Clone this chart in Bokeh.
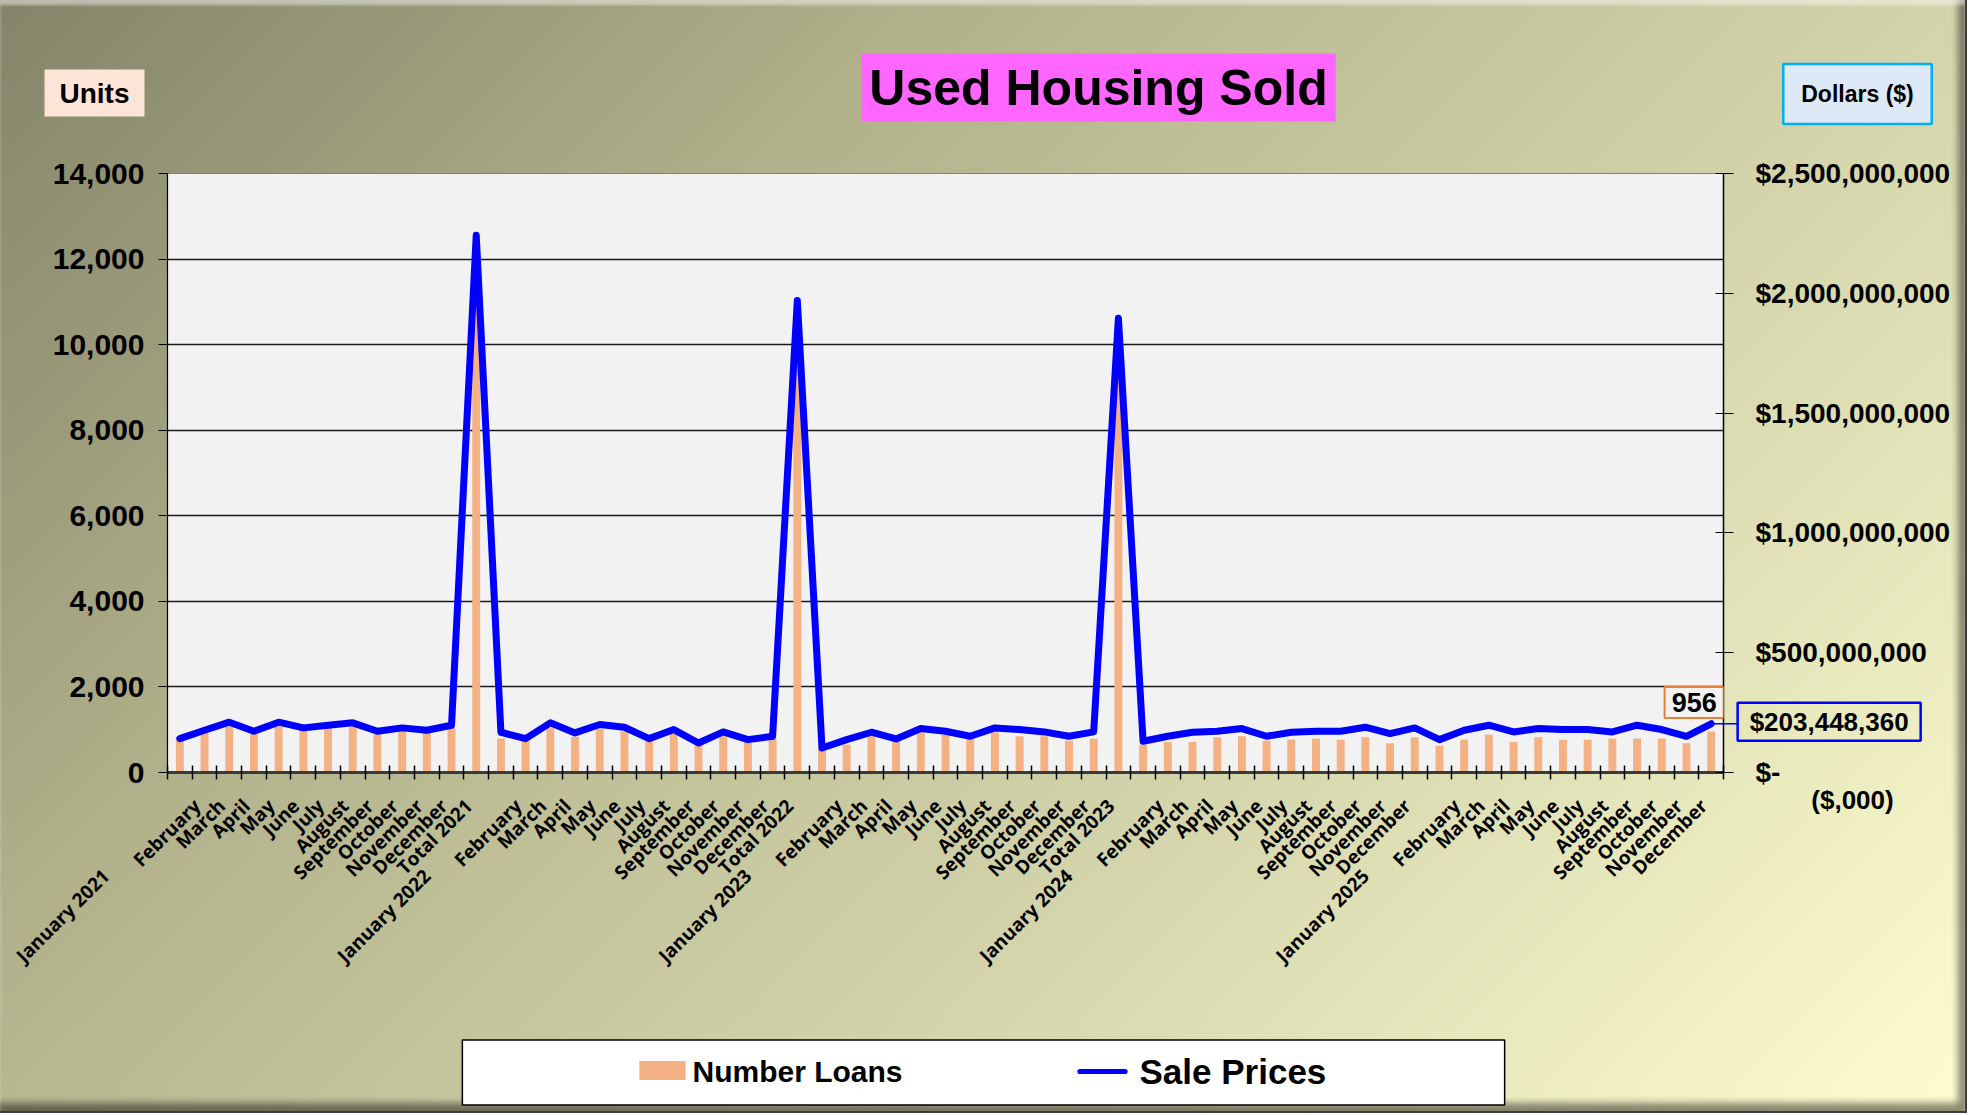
from math import pi
from bokeh.plotting import figure
from bokeh.models import (Range1d, LinearAxis, FixedTicker, NumeralTickFormatter,
                          CustomJSTickFormatter, Label, ColumnDataSource)
from bokeh.core.properties import value
from bokeh.embed import file_html
from bokeh.resources import INLINE

# ---------------- data ----------------
month_names = ["January", "February", "March", "April", "May", "June", "July",
               "August", "September", "October", "November", "December"]

x_labels = (["January 2021"] + month_names[1:] + ["Total 2021"] +
            ["January 2022"] + month_names[1:] + ["Total 2022"] +
            ["January 2023"] + month_names[1:] + ["Total 2023"] +
            ["January 2024"] + month_names[1:] +
            ["January 2025"] + month_names[1:])

units_2021 = [823, 941, 1074, 902, 1074, 996, 1043, 1074, 902, 980, 933, 1043]
units_2022 = [792, 768, 1043, 831, 1019, 964, 768, 902, 651, 847, 713, 784]
units_2023 = [557, 651, 964, 729, 941, 886, 808, 941, 847, 847, 745, 792]
units_2024 = [651, 713, 713, 823, 847, 745, 768, 792, 768, 823, 682, 823]
units_2025 = [627, 768, 886, 713, 823, 768, 768, 792, 792, 792, 682, 956]
units_totals = [11785, 10082, 9708]

dollars_2021 = [141400000, 176400000, 210000000, 172200000, 210000000, 186200000,
                197400000, 207200000, 172200000, 186200000, 176400000, 197400000]
dollars_2022 = [168000000, 141400000, 207200000, 165200000, 200200000, 189000000,
                141400000, 179200000, 123200000, 169400000, 137200000, 151200000]
dollars_2023 = [102100000, 137200000, 168000000, 140000000, 183400000, 172200000,
                151200000, 186200000, 179200000, 169400000, 151200000, 169400000]
dollars_2024 = [130200000, 151200000, 168000000, 172200000, 183400000, 151200000,
                168000000, 172200000, 172200000, 189000000, 162500000, 186200000]
dollars_2025 = [137200000, 176400000, 197400000, 169400000, 183400000, 179200000,
                179200000, 169400000, 197400000, 179200000, 151200000, 203448360]
dollars_totals = [2242000000, 1970000000, 1896000000]

units = (units_2021 + [units_totals[0]] + units_2022 + [units_totals[1]] +
         units_2023 + [units_totals[2]] + units_2024 + units_2025)
dollars = (dollars_2021 + [dollars_totals[0]] + dollars_2022 + [dollars_totals[1]] +
           dollars_2023 + [dollars_totals[2]] + dollars_2024 + dollars_2025)

y_ticks = [0, 2000, 4000, 6000, 8000, 10000, 12000, 14000]
d_ticks = [0, 500000000, 1000000000, 1500000000, 2000000000, 2500000000]

series_names = ["Number Loans", "Sale Prices"]

n = len(x_labels)
xs = list(range(n))

# ---------------- layout constants (pixels) ----------------
W, H = 1965, 1111
FL, FT, FW, FH = 167, 173, 1556, 599
Y_MAX = 14000

BAR_COLOR = "#f4b183"
LINE_COLOR = "#0000ff"


def dx(px):
    return -0.5 + (px - FL) / FW * n


def dy(py):
    return (FT + FH - py) / FH * Y_MAX


ARIAL = "Liberation Sans"
px_per_x = FW / n

p = figure(frame_width=FW, frame_height=FH, min_border_left=FL,
           min_border_right=W - FL - FW, min_border_top=FT,
           min_border_bottom=H - FT - FH,
           x_range=Range1d(-0.5, n - 0.5), y_range=Range1d(0, Y_MAX),
           output_backend="svg", toolbar_location=None, title=None)
p.extra_y_ranges = {"dollars": Range1d(0, 2500000000)}

p.background_fill_color = "#f2f2f2"
p.border_fill_color = None
p.outline_line_color = "#7f7f7f"
p.outline_line_width = 1
p.styles = {
    "background": "linear-gradient(135deg, #84846a 0%, #b0b08a 30%, #d0d0a8 60%, #fdfdd0 100%)",
    "outline": "2px solid #3c3c3c",
    "box-shadow": "inset 0 5px 3px rgba(255,255,255,0.45), inset -7px -8px 7px rgba(0,0,0,0.45)",
}

# grid
p.xgrid.visible = False
p.ygrid.ticker = FixedTicker(ticks=y_ticks)
p.ygrid.grid_line_color = "#1a1a1a"
p.ygrid.grid_line_width = 1.3

# left axis
ya = p.yaxis[0]
ya.ticker = FixedTicker(ticks=y_ticks)
ya.formatter = NumeralTickFormatter(format="0,0")
ya.major_label_text_font = ARIAL
ya.major_label_text_font_style = "bold"
ya.major_label_text_font_size = "30px"
ya.major_label_text_color = "black"
ya.major_tick_out = 9
ya.major_tick_in = 0
ya.major_tick_line_color = "black"
ya.minor_tick_line_color = None
ya.axis_line_color = "black"
ya.axis_line_width = 1.2
ya.major_label_standoff = 14

# right axis
ra = LinearAxis(y_range_name="dollars", ticker=FixedTicker(ticks=d_ticks),
                formatter=CustomJSTickFormatter(
                    code="if (tick == 0) { return '$-'; } return '$' + Math.round(tick).toLocaleString('en-US');"))
ra.major_label_text_font = ARIAL
ra.major_label_text_font_style = "bold"
ra.major_label_text_font_size = "28px"
ra.major_label_text_color = "black"
ra.major_tick_out = 10
ra.major_tick_in = 8
ra.major_tick_line_color = "black"
ra.minor_tick_line_color = None
ra.axis_line_color = "black"
ra.axis_line_width = 1.5
ra.major_label_standoff = 22
p.add_layout(ra, "right")

# bottom axis (tick marks between categories)
xa = p.xaxis[0]
xa.ticker = FixedTicker(ticks=[i - 0.5 for i in range(n + 1)])
xa.formatter = CustomJSTickFormatter(code="return '';")
xa.major_label_text_font_size = "1px"
xa.major_label_standoff = 0
xa.major_tick_in = 7
xa.major_tick_out = 7
xa.major_tick_line_color = "black"
xa.major_tick_line_width = 1.5
xa.minor_tick_line_color = None
xa.axis_line_color = "#3a3a3a"
xa.axis_line_width = 3

# bottom axis (category labels); the label anchor is nudged so the rotated
# text's centre line passes through the category centre
label_shift = 7.5 / px_per_x
month_axis_labels = ["" if lbl.startswith("January") else lbl for lbl in x_labels]
xb = LinearAxis(ticker=FixedTicker(ticks=[i - label_shift for i in xs]),
                formatter=CustomJSTickFormatter(args={"L": month_axis_labels},
                                                code="const i = Math.round(tick); return (i >= 0 && i < L.length) ? L[i] : '';"))
xb.axis_line_color = None
xb.major_tick_line_color = None
xb.major_tick_in = 0
xb.major_tick_out = 0
xb.minor_tick_line_color = None
xb.major_label_orientation = pi / 4
xb.major_label_text_font = "Open Sans"
xb.major_label_text_font_style = "bold"
xb.major_label_text_font_size = "19px"
xb.major_label_text_color = "black"
xb.major_label_standoff = 23
p.add_layout(xb, "below")

# ---------------- glyphs ----------------
src = ColumnDataSource(dict(x=xs, units=units, dollars=dollars, label=x_labels))
bars = p.vbar(x="x", top="units", width=0.32, source=src,
              fill_color=BAR_COLOR, line_color=None)
line = p.line(x="x", y="dollars", source=src, y_range_name="dollars",
              line_color=LINE_COLOR, line_width=7, line_join="round", line_cap="round")

# January labels (shifted further down along their baseline)
jan_idx = [i for i, lbl in enumerate(x_labels) if lbl.startswith("January")]
jan_src = ColumnDataSource(dict(x=jan_idx, y=[0] * len(jan_idx),
                                text=[x_labels[i] for i in jan_idx]))
p.text(x="x", y="y", text="text", source=jan_src, angle=pi / 4,
       text_align="right", text_baseline="middle", x_offset=-74, y_offset=100,
       text_font=value("Open Sans"), text_font_style="bold",
       text_font_size="19px", text_color="black", level="annotation")

# data labels
last = n - 1
p.add_layout(Label(x=last, y=units[last], text=str(units[last]),
                   x_offset=-17, y_offset=29, text_align="center", text_baseline="middle",
                   text_font=ARIAL, text_font_size="27px", text_font_style="bold",
                   text_color="black",
                   background_fill_color="#f2f2f2", border_line_color="#ed7d31",
                   border_line_width=2, padding=(7, 6)))
p.segment(x0=[last], y0=[dollars[last]], x1=[last + 26 / px_per_x], y1=[dollars[last]],
          y_range_name="dollars", line_color=LINE_COLOR, line_width=1.5, level="guide")
p.text(x=[last], y=[dollars[last]], text=["${:,.0f}".format(dollars[last])],
       y_range_name="dollars", x_offset=118, y_offset=-2, text_align="center",
       text_baseline="middle",
       text_font=value(ARIAL), text_font_size="26px", text_font_style="bold",
       text_color="black", border_line_color=LINE_COLOR, border_line_width=2.5,
       padding=(12, 4), level="annotation")

# titles / boxed captions
p.text(x=[dx(1098)], y=[dy(87)], text=["Used Housing Sold"],
       text_align="center", text_baseline="middle",
       text_font=value(ARIAL), text_font_size="50px", text_font_style="bold",
       text_color="black", background_fill_color="#ff66ff", padding=(8, 6),
       level="annotation")
p.text(x=[dx(94)], y=[dy(92.5)], text=["Units"],
       text_align="center", text_baseline="middle",
       text_font=value(ARIAL), text_font_size="28px", text_font_style="bold",
       text_color="black", background_fill_color="#fce4d6", padding=(15, 8),
       level="annotation")
p.text(x=[dx(1857)], y=[dy(93.5)], text=["Dollars ($)"],
       text_align="center", text_baseline="middle",
       text_font=value(ARIAL), text_font_size="23px", text_font_style="bold",
       text_color="black", background_fill_color="#dde9f6",
       border_line_color="#00b0f0", border_line_width=2.5, padding=(18, 17),
       level="annotation")
p.text(x=[dx(1852)], y=[dy(799)], text=["($,000)"],
       text_align="center", text_baseline="middle",
       text_font=value(ARIAL), text_font_size="26px", text_font_style="bold",
       text_color="black", level="annotation")

# legend (frame, swatches and labels)
p.text(x=[dx(983)], y=[dy(1072)], text=[" "],
       text_align="center", text_baseline="middle", text_font_size="1px",
       background_fill_color="white", border_line_color="black",
       border_line_width=1.5, padding=(521, 32), level="guide")
p.text(x=[dx(662)], y=[dy(1070)], text=[" "],
       text_align="center", text_baseline="middle", text_font_size="1px",
       background_fill_color=BAR_COLOR, padding=(23, 9), level="annotation")
p.text(x=[dx(692)], y=[dy(1071)], text=[series_names[0]],
       text_align="left", text_baseline="middle",
       text_font=value(ARIAL), text_font_size="30px", text_font_style="bold",
       text_color="black", level="annotation")
p.text(x=[dx(1102)], y=[dy(1071)], text=[" "],
       text_align="center", text_baseline="middle", text_font_size="1px",
       background_fill_color=LINE_COLOR, padding=(25, 2), border_radius=3,
       level="annotation")
p.text(x=[dx(1139)], y=[dy(1071)], text=[series_names[1]],
       text_align="left", text_baseline="middle",
       text_font=value(ARIAL), text_font_size="35px", text_font_style="bold",
       text_color="black", level="annotation")

open("out.html", "w").write(file_html(p, INLINE))
